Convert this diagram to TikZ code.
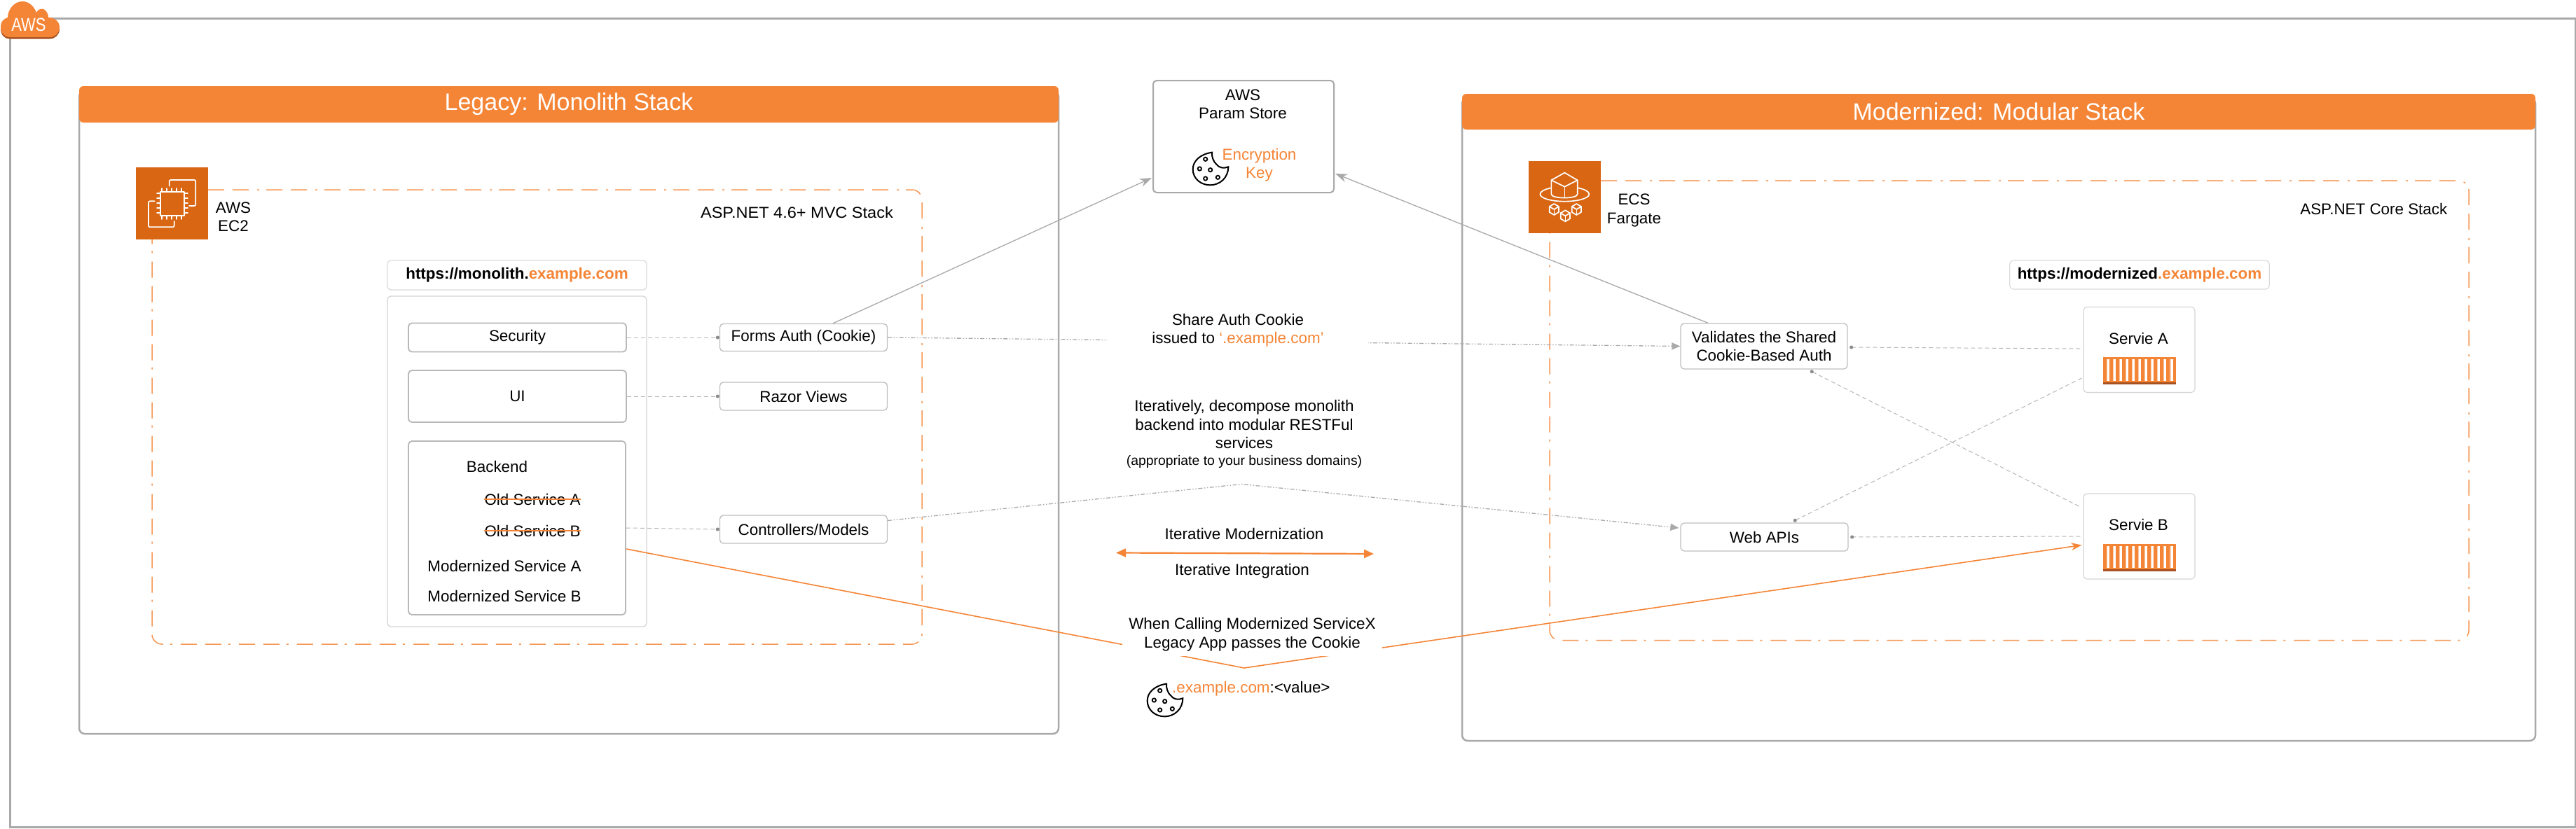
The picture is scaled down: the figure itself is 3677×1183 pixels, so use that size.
\documentclass[tikz,border=0pt]{standalone}
\usepackage{fontspec}
\setmainfont{Liberation Sans}
\usetikzlibrary{arrows.meta,shapes.geometric}
\definecolor{awsorange}{HTML}{F58536}
\definecolor{icondark}{HTML}{D86613}
\definecolor{shadoworange}{HTML}{A8531F}
\definecolor{linegray}{HTML}{A9A9A9}
\definecolor{dotgray}{HTML}{8C8C8C}
\newcommand{\normtext}{\fontsize{22.4}{26.4}\selectfont}
\newcommand{\smalltext}{\fontsize{19.4}{22}\selectfont}
\newcommand{\titletext}{\fontsize{34}{40}\selectfont}
\tikzset{
  txt/.style={inner sep=0pt,align=center,font=\normtext},
  bbox/.style={draw=#1,fill=white,rounded corners=5pt,inner sep=0pt,align=center,font=\normtext},
  stackbox/.style={draw=linegray,line width=2.5pt,rounded corners=8pt},
  header/.style={fill=awsorange,rounded corners=6pt,text=white,inner sep=0pt,font=\titletext},
  dashrect/.style={draw=awsorange!85!white,line width=1.5pt,rounded corners=14pt,dash pattern=on 23pt off 12pt on 23pt off 12pt on 3pt off 10pt},
  dotend/.style={-{Circle[length=5pt,width=5pt,fill=dotgray,color=dotgray]}},
  dashcon/.style={draw=linegray!85!white,line width=1pt,dash pattern=on 6pt off 4pt,dotend},
  dashdot/.style={draw=linegray,line width=1.3pt,dash pattern=on 6pt off 2.5pt on 1.5pt off 2.5pt on 1.5pt off 2.5pt,-{Triangle[length=12pt,width=10pt,fill=linegray,color=linegray]}},
  solidgray/.style={draw=linegray,line width=1.3pt,-{Stealth[length=17pt,width=12pt,fill=linegray,color=linegray]}},
  orangeline/.style={draw=awsorange,line width=1.6pt},
  cookie/.pic={
    \draw[line width=2pt,black] (120,38) .. controls (70,45) and (38,75) .. (38,110)
       .. controls (38,150) and (72,178) .. (112,178)
       .. controls (155,178) and (190,145) .. (190,100)
       .. controls (170,108) and (150,105) .. (138,88)
       .. controls (126,78) and (118,55) .. (120,38) -- cycle;
    \foreach \cx/\cy in {92/67,67/108,113/113,92/150,145/145}
      \draw[line width=1.8pt,black] (\cx,\cy) circle[radius=8];
  },
  cargo/.pic={
    \fill[awsorange] (0,0) rectangle (103.7,36);
    \fill[shadoworange] (0,36) rectangle (103.7,39.3);
    \foreach \i in {0,...,10}{
      \fill[white] ({4.7+9.05*\i},2.7) rectangle ({9+9.05*\i},34);
      \fill[awsorange!45!white] ({4.7+9.05*\i},2.7) rectangle ({6+9.05*\i},34);
    }
  },
}
\begin{document}
\begin{tikzpicture}[x=1pt,y=-1pt]
\useasboundingbox (0,0) rectangle (3677,1183);
\fill[white] (0,0) rectangle (3677,1183);
% outer AWS frame
\draw[linegray,line width=3pt] (14,26) rectangle (3676,1181.5);
% stacks
\draw[stackbox] (113,130) rectangle (1511,1048);
\draw[stackbox] (2087,140) rectangle (3619,1058);
\node[header,minimum width=1398pt,minimum height=52pt] (legacy) at (812,149) {Legacy: Monolith Stack};
\node[header,minimum width=1532pt,minimum height=51pt] (modern) at (2853,159.5) {Modernized: Modular Stack};
% dash-dot frames
\draw[dashrect] (297,271) -- (1316,271) -- (1316,920) -- (217,920) -- (217,342);
\draw[dashrect] (2285,258) -- (3524,258) -- (3524,914.5) -- (2212,914.5) -- (2212,333);
% monolith boxes
\node[bbox=black!14,line width=1.2pt,minimum width=370pt,minimum height=42pt,font=\normtext\bfseries] (url) at (738,393) {https://monolith.\textcolor{awsorange}{example.com}};
\node[bbox=black!17,line width=1.2pt,minimum width=370pt,minimum height=472pt] (stackc) at (738,659) {};
\node[bbox=black!28,line width=1.8pt,minimum width=311pt,minimum height=41pt] (security) at (738.5,482) {Security};
\node[bbox=black!28,line width=1.8pt,minimum width=311pt,minimum height=74pt] (ui) at (738.5,566) {UI};
\node[bbox=black!28,line width=1.8pt,minimum width=310pt,minimum height=248pt] (backend) at (738,754) {};
\node[txt] (backendt) at (709.5,666) {Backend};
\node[txt] (olda) at (760,713) {Old Service A};
\node[txt] (oldb) at (760,758) {Old Service B};
\node[txt] (moda) at (720,808.5) {Modernized Service A};
\node[txt] (modb) at (720,851) {Modernized Service B};
\draw[awsorange,line width=2.5pt] (olda.west) -- (olda.east);
\draw[awsorange,line width=2.5pt] (oldb.west) -- (oldb.east);
\node[bbox=black!25,line width=1.3pt,minimum width=239pt,minimum height=39pt] (forms) at (1147,482) {Forms Auth (Cookie)};
\node[bbox=black!25,line width=1.3pt,minimum width=239pt,minimum height=40pt] (razor) at (1147,566) {Razor Views};
\node[bbox=black!25,line width=1.3pt,minimum width=239pt,minimum height=40pt] (controllers) at (1147,756) {Controllers/Models};
% param store
\node[bbox=linegray,line width=2pt,minimum width=258pt,minimum height=160pt] (param) at (1775,195) {};
\node[txt] (paramt) at (1774,149) {AWS\\Param Store};
\node[txt,text=awsorange] (enckey) at (1797.5,236) {Encryption\\Key};
\pic[scale=.3333] at (1690,205) {cookie};
% modern boxes
\node[bbox=black!14,line width=1.2pt,minimum width=370.5pt,minimum height=41pt,font=\normtext\bfseries] (murl) at (3054,392.5) {https://modernized\textcolor{awsorange}{.example.com}};
\node[bbox=black!25,line width=1.3pt,minimum width=238pt,minimum height=65pt] (validates) at (2518,494.5) {Validates the Shared\\Cookie-Based Auth};
\node[bbox=black!25,line width=1.3pt,minimum width=239pt,minimum height=40pt] (webapis) at (2518.5,767) {Web APIs};
\node[bbox=black!17,line width=1.1pt,minimum width=159pt,minimum height=122pt] (serva) at (3053.5,499.5) {};
\node[bbox=black!17,line width=1.1pt,minimum width=159pt,minimum height=122pt] (servb) at (3053.5,766) {};
\node[txt] (servat) at (3052.5,483.5) {Servie A};
\node[txt] (servbt) at (3052.5,749.5) {Servie B};
\pic at (3002,510) {cargo};
\pic at (3002,777) {cargo};
% free coordinates
\coordinate (peak) at (1772,691.5);
\coordinate (vee) at (1776,954);
\coordinate (iterl) at (1593,789.5);
\coordinate (iterr) at (1961,791);
% connectors
\draw[dashcon] (security.east) -- (forms.west);
\draw[dashcon] (ui.east) -- (razor.west);
\draw[dashcon] (backend.east) -- (controllers.west);
\draw[solidgray] ([shift={(42,0)}]forms.north) -- ([shift={(-1,59)}]param.west);
\draw[solidgray] ([shift={(-80,0)}]validates.north) -- ([shift={(1,53)}]param.east);
\draw[dashdot] (forms.east) -- (validates.west);
\draw[dashdot] ([shift={(0,-12.5)}]controllers.east) -- (peak) -- ([shift={(-2,-13)}]webapis.west);
\draw[dashcon] ([shift={(-4,-1.5)}]serva.west) -- ([shift={(2.5,1.5)}]validates.east);
\draw[dashcon] ([shift={(-6,-43)}]servb.west) -- ([shift={(66,2)}]validates.south);
\draw[dashcon] ([shift={(-2,40.5)}]serva.west) -- ([shift={(41.5,-2)}]webapis.north);
\draw[dashcon] ([shift={(-4,0)}]servb.west) -- ([shift={(2.5,0)}]webapis.east);
\draw[orangeline,-{Stealth[length=15pt,width=11pt,fill=awsorange,color=awsorange]}] ([shift={(0,30)}]backend.east) -- (vee) -- ([shift={(-2,12.5)}]servb.west);
\draw[orangeline,line width=2.2pt,{Triangle[length=14pt,width=12pt,fill=awsorange,color=awsorange]}-{Triangle[length=14pt,width=12pt,fill=awsorange,color=awsorange]}] (iterl) -- (iterr);
% centre texts
\node[txt,fill=white,minimum width=372pt,minimum height=58pt] (share) at (1767,472) {Share Auth Cookie\\issued to \textcolor{awsorange}{‘.example.com’}};
\node[txt,anchor=north] (decomp) at (1776,571.5) {Iteratively, decompose monolith\\backend into modular RESTFul\\services\\[-3pt]{\smalltext (appropriate to your business domains)}};
\node[txt] (itm) at (1776,762) {Iterative Modernization};
\node[txt] (iti) at (1773,815.5) {Iterative Integration};
\node[txt,fill=white,minimum width=371pt,minimum height=62pt] (when) at (1787.5,906) {When Calling Modernized ServiceX\\Legacy App passes the Cookie};
\node[txt,anchor=west] (cookieval) at (1673,984) {\textcolor{awsorange}{.example.com}:<value>};
\pic[scale=.3333] at (1625,964) {cookie};
% stack labels
\node[txt,anchor=east] (aspl) at (1275,303.5) {\scalebox{1.05}[1]{ASP.NET 4.6+ MVC Stack}};
\node[txt,anchor=east] (aspm) at (3493.5,298) {ASP.NET Core Stack};
% EC2 icon
\node[fill=icondark,minimum width=103.5pt,minimum height=103.5pt,inner sep=0pt] (ec2) at (245.7,290.7) {};
\begin{scope}[shift={(190,235)},scale=.3333,white,line width=1.7pt,line cap=round,line join=round]
  \draw (118,118) rectangle (218,218);
  \foreach \p in {123,144,165,186,207}{
    \draw (\p,102) -- (\p,118);
    \draw (\p,218) -- (\p,234);
    \draw (102,\p+0) -- (118,\p);
    \draw (218,\p) -- (234,\p);
  }
  \draw[rounded corners=2pt] (155,92) -- (155,66) -- (268,66) -- (268,177) -- (240,177);
  \draw[rounded corners=2pt] (92,157) -- (66,157) -- (66,268) -- (176,268) -- (176,243);
\end{scope}
\node[txt] (ec2t) at (333,310) {AWS\\EC2};
% Fargate icon
\node[fill=icondark,minimum width=103pt,minimum height=103pt,inner sep=0pt] (fargate) at (2233,281.5) {};
\begin{scope}[shift={(2175,225)},scale=.3333,white,line width=1.7pt,line cap=round,line join=round]
  \draw (118,97) -- (175,65) -- (230,97) -- (230,157) .. controls (230,178) and (118,178) .. (118,157) -- cycle;
  \draw (118,97) -- (175,125) -- (230,97);
  \draw (175,125) -- (175,172);
  \draw (118,130) .. controls (90,136) and (70,145) .. (70,157) .. controls (70,175) and (120,188) .. (175,188) .. controls (230,188) and (280,175) .. (280,157) .. controls (280,145) and (260,136) .. (232,130);
  \foreach \cx/\cy in {130/222,178/250,226/222}{
    \draw (\cx-20,\cy-12) -- (\cx,\cy-24) -- (\cx+20,\cy-12) -- (\cx+20,\cy+12) -- (\cx,\cy+24) -- (\cx-20,\cy+12) -- cycle;
    \draw (\cx-20,\cy-12) -- (\cx,\cy) -- (\cx+20,\cy-12);
    \draw (\cx,\cy) -- (\cx,\cy+24);
  }
\end{scope}
\node[txt] (fargatet) at (2332.5,300.5) {ECS\\Fargate};
% AWS cloud
\begin{scope}[shift={(0,2.5)}]
\fill[shadoworange] (14,53) .. controls (5,53) and (1,46) .. (1,38) .. controls (1,31) and (5,27) .. (11,25) .. controls (11,14) and (20,2) .. (32,2) .. controls (42,2) and (49,10) .. (52,18) .. controls (54,13) and (60,11) .. (64,14) .. controls (68,18) and (69,22) .. (69,25) .. controls (78,25) and (85,31) .. (85,39) .. controls (85,47) and (79,53) .. (71,53) -- cycle;
\end{scope}
\fill[awsorange] (14,53) .. controls (5,53) and (1,46) .. (1,38) .. controls (1,31) and (5,27) .. (11,25) .. controls (11,14) and (20,2) .. (32,2) .. controls (42,2) and (49,10) .. (52,18) .. controls (54,13) and (60,11) .. (64,14) .. controls (68,18) and (69,22) .. (69,25) .. controls (78,25) and (85,31) .. (85,39) .. controls (85,47) and (79,53) .. (71,53) -- cycle;
\node[txt,text=white,font=\fontsize{26.5}{30}\selectfont] (awslogo) at (41,35.5) {\scalebox{0.83}[1]{AWS}};
\end{tikzpicture}
\end{document}
